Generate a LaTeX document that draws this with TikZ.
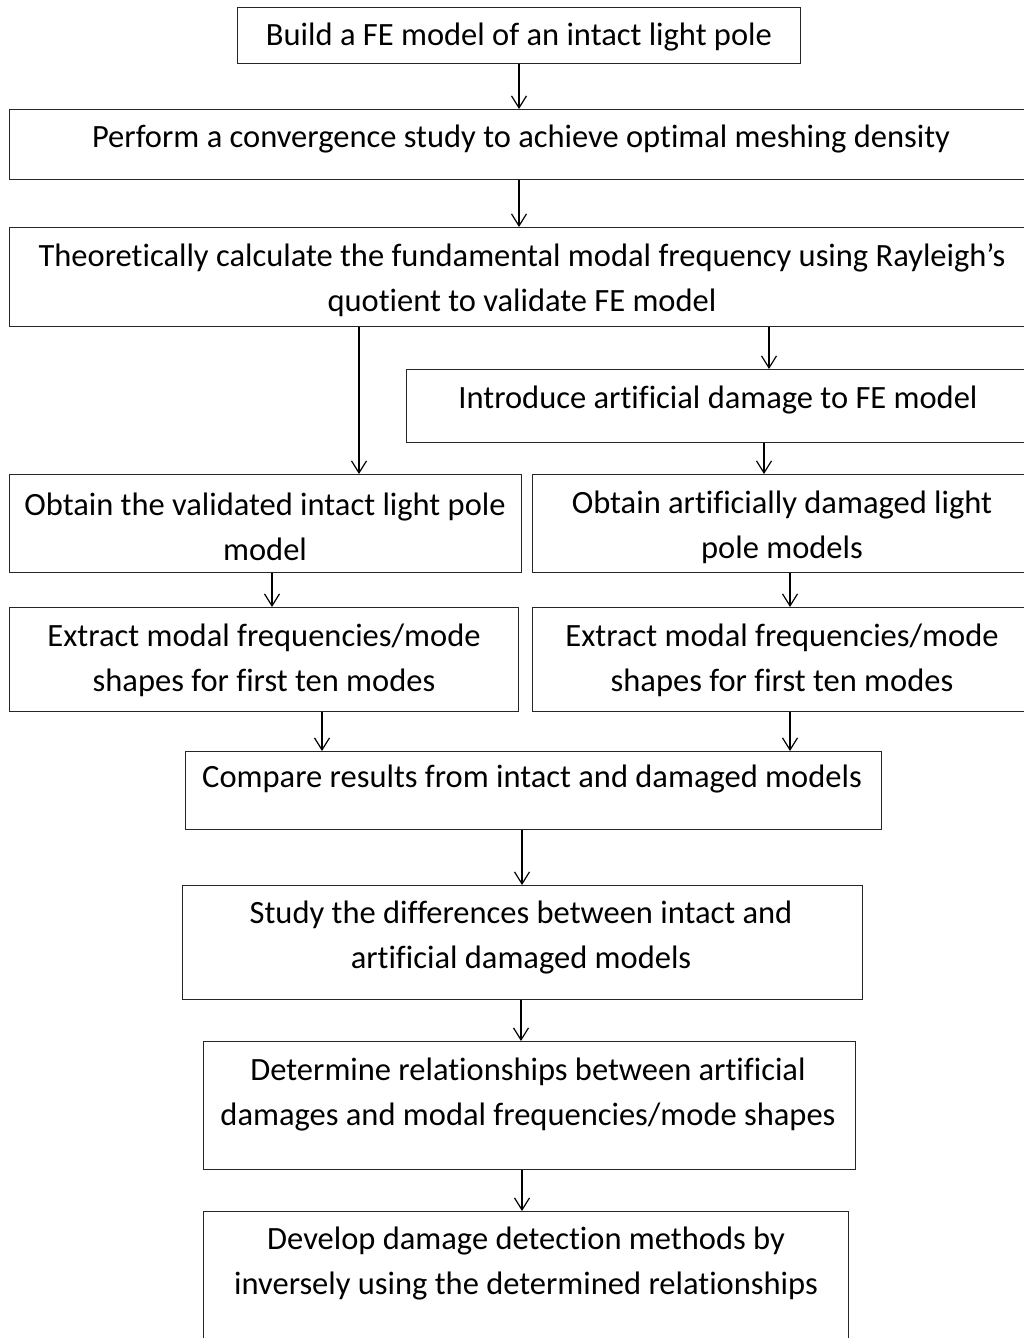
\documentclass[tikz,border=0pt]{standalone}
\usepackage{fontspec}
\setmainfont[Ligatures={NoCommon,NoDiscretionary,NoContextual}]{Carlito}
\usetikzlibrary{arrows.meta}
\begin{document}
\begin{tikzpicture}[x=1pt,y=-1pt,
  boxs/.style={draw=black!85, line width=1.2pt, rectangle, inner sep=0pt, anchor=north west},
  txt/.style={inner sep=0pt, align=center, font=\fontsize{32.5}{45}\selectfont},
  arr/.style={line width=1.2pt, -{Straight Barb[length=12pt,width=15pt,line width=1.2pt]}}]
\useasboundingbox (0,0) rectangle (1024,1338);
\clip (0,0) rectangle (1024,1338);
% boxes
\node[boxs, minimum width=563pt, minimum height=56pt] (b1) at (237,7) {};
\node[boxs, minimum width=1030pt, minimum height=70pt] (b2) at (9,109) {};
\node[boxs, minimum width=1030pt, minimum height=99pt] (b3) at (9,227) {};
\node[boxs, minimum width=630pt, minimum height=73pt] (b4) at (406,369) {};
\node[boxs, minimum width=512pt, minimum height=98pt] (b5) at (9,474) {};
\node[boxs, minimum width=500pt, minimum height=98pt] (b6) at (532,474) {};
\node[boxs, minimum width=509pt, minimum height=104pt] (b7) at (9,607) {};
\node[boxs, minimum width=500pt, minimum height=104pt] (b8) at (532,607) {};
\node[boxs, minimum width=696pt, minimum height=78pt] (b9) at (185,751) {};
\node[boxs, minimum width=680pt, minimum height=114pt] (b10) at (182,885) {};
\node[boxs, minimum width=652pt, minimum height=128pt] (b11) at (203,1041) {};
\node[boxs, minimum width=645pt, minimum height=140pt] (b12) at (203,1211) {};
% texts
\node[txt] (t1) at (519,37) {Build a FE model of an intact light pole};
\node[txt] (t2) at (521,139) {Perform a convergence study to achieve optimal meshing density};
\node[txt] (t3) at (522,280) {Theoretically calculate the fundamental modal frequency using Rayleigh’s\\quotient to validate FE model};
\node[txt] (t4) at (718,400) {Introduce artificial damage to FE model};
\node[txt] (t5) at (265,527) {Obtain the validated intact light pole\\model};
\node[txt] (t6) at (782,527) {Obtain artificially damaged light\\pole models};
\node[txt] (t7) at (264,660) {Extract modal frequencies/mode\\shapes for first ten modes};
\node[txt] (t8) at (782,660) {Extract modal frequencies/mode\\shapes for first ten modes};
\node[txt] (t9) at (532,779) {Compare results from intact and damaged models};
\node[txt] (t10) at (521,937) {Study the differences between intact and\\artificial damaged models};
\node[txt] (t11) at (528,1094) {Determine relationships between artificial\\damages and modal frequencies/mode shapes};
\node[txt] (t12) at (526,1263) {Develop damage detection methods by\\inversely using the determined relationships};
% connector x positions
\coordinate (x12) at (519,0);
\coordinate (x35) at (359,0);
\coordinate (x34) at (769,0);
\coordinate (x46) at (764,0);
\coordinate (x57) at (272,0);
\coordinate (x68) at (790,0);
\coordinate (x79) at (322,0);
\coordinate (x910) at (522,0);
\coordinate (x1011) at (521,0);
% connectors
\draw[arr] (b1.south -| x12) -- (b2.north -| x12);
\draw[arr] (b2.south -| x12) -- (b3.north -| x12);
\draw[arr] (b3.south -| x35) -- (b5.north -| x35);
\draw[arr] (b3.south -| x34) -- (b4.north -| x34);
\draw[arr] (b4.south -| x46) -- (b6.north -| x46);
\draw[arr] (b5.south -| x57) -- (b7.north -| x57);
\draw[arr] (b6.south -| x68) -- (b8.north -| x68);
\draw[arr] (b7.south -| x79) -- (b9.north -| x79);
\draw[arr] (b8.south -| x68) -- (b9.north -| x68);
\draw[arr] (b9.south -| x910) -- (b10.north -| x910);
\draw[arr] (b10.south -| x1011) -- (b11.north -| x1011);
\draw[arr] (b11.south -| x910) -- (b12.north -| x910);
\end{tikzpicture}
\end{document}
